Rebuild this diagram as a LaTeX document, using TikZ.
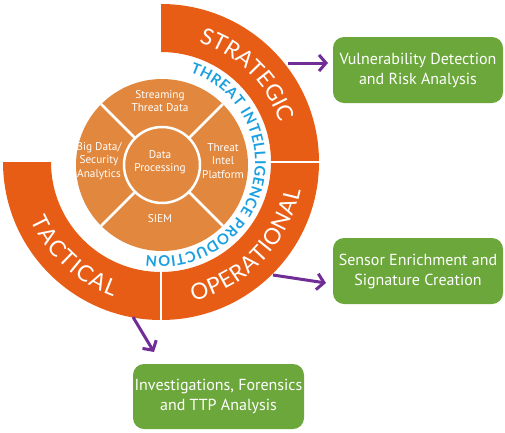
\documentclass[tikz,border=0pt]{standalone}
\usepackage{fontspec}
\setmainfont{PT Sans}
\newfontfamily\latofont{Lato}
\usetikzlibrary{decorations.text,arrows.meta}
\definecolor{ringor}{RGB}{232,93,22}
\definecolor{diskor}{RGB}{226,136,62}
\definecolor{boxgreen}{RGB}{108,167,59}
\definecolor{arrpurple}{RGB}{113,45,150}
\definecolor{tipblue}{RGB}{26,160,224}
\newcommand\ringlabelfont{\latofont\fontsize{22.5}{22.5}\selectfont}
\newcommand\bluelabelfont{\latofont\bfseries\fontsize{14.8}{14.8}\selectfont}
\begin{document}
\begin{tikzpicture}[x=1pt,y=1pt,
  gbox/.style={fill=boxgreen, rounded corners=11pt, text=white, align=center,
    minimum width=170pt, minimum height=66pt, inner sep=0pt,
    font=\fontsize{16}{20}\selectfont},
  disktext/.style={text=white, align=center, inner sep=0pt,
    font=\fontsize{11.3}{13.5}\selectfont},
  parrow/.style={arrpurple, line width=3pt,
    -{Straight Barb[length=7pt,width=16pt]}},
  divider/.style={white, line width=2.5pt},
  ringcut/.style={white, line width=1.8pt}]
\useasboundingbox (-161,-270) rectangle (344,162);
% ring sectors
\fill[ringor] (0:110) arc[start angle=0,end angle=90,radius=110] -- (90:158)
  arc[start angle=90,end angle=0,radius=158] -- cycle;
\fill[ringor] (-90:110) arc[start angle=-90,end angle=0,radius=110] -- (0:158)
  arc[start angle=0,end angle=-90,radius=158] -- cycle;
\fill[ringor] (180:110) arc[start angle=180,end angle=270,radius=110] -- (270:158)
  arc[start angle=270,end angle=180,radius=158] -- cycle;
\draw[ringcut] (0:108) -- (0:160);
\draw[ringcut] (270:108) -- (270:160);
% ring labels
\path[decorate, decoration={text along path, text color=white,
  text={|\ringlabelfont|STRATEGIC}, text align=fit to path}]
  (72.5:125.5) arc[start angle=72.5, end angle=18.5, radius=125.5];
\path[decorate, decoration={text along path, text color=white,
  text={|\ringlabelfont|OPERATIONAL}, text align=fit to path}]
  (-77:142.5) arc[start angle=-77, end angle=-11.5, radius=142.5];
\path[decorate, decoration={text along path, text color=white,
  text={|\ringlabelfont|TACTICAL}, text align=fit to path}]
  (204:142.5) arc[start angle=204, end angle=250.5, radius=142.5];
% blue arc text
\path[decorate, decoration={text along path, text color=tipblue,
  text={|\bluelabelfont|THREAT INTELLIGENCE PRODUCTION}, text align=fit to path}]
  (72:94) arc[start angle=72, end angle=-99, radius=94];
% central disk
\begin{scope}[shift={(1,-3)}]
\fill[diskor] (0,0) circle[radius=86];
\foreach \a in {45,135,225,315} \draw[divider] (\a:38) -- (\a:86);
\draw[divider, fill=diskor] (0,0) circle[radius=38];
\end{scope}
\node[disktext] (stream) at (-1,61) {Streaming\\Threat Data};
\node[disktext] (tip) at (62,1) {Threat\\Intel\\Platform};
\node[disktext] (bigdata) at (-62,1) {Big Data/\\Security\\Analytics};
\node[disktext] (proc) at (-1,0) {Data\\Processing};
\node[disktext] (siem) at (-1,-57) {SIEM};
% green boxes
\node[gbox] (vuln) at (257,92) {Vulnerability Detection\\and Risk Analysis};
\node[gbox] (sensor) at (257,-109) {Sensor Enrichment and\\Signature Creation};
\node[gbox, minimum width=171pt, minimum height=65pt] (invest) at (57.5,-234.5)
  {Investigations, Forensics\\and TTP Analysis};
% arrows
\coordinate (a1s) at (127,99);
\coordinate (a1e) at (167,99);
\coordinate (a2s) at (112,-113);
\coordinate (a2e) at (165,-121);
\coordinate (a3s) at (-28,-155);
\coordinate (a3e) at (-7,-190);
\draw[parrow] (a1s) -- (a1e);
\draw[parrow] (a2s) -- (a2e);
\draw[parrow] (a3s) -- (a3e);
\end{tikzpicture}
\end{document}
